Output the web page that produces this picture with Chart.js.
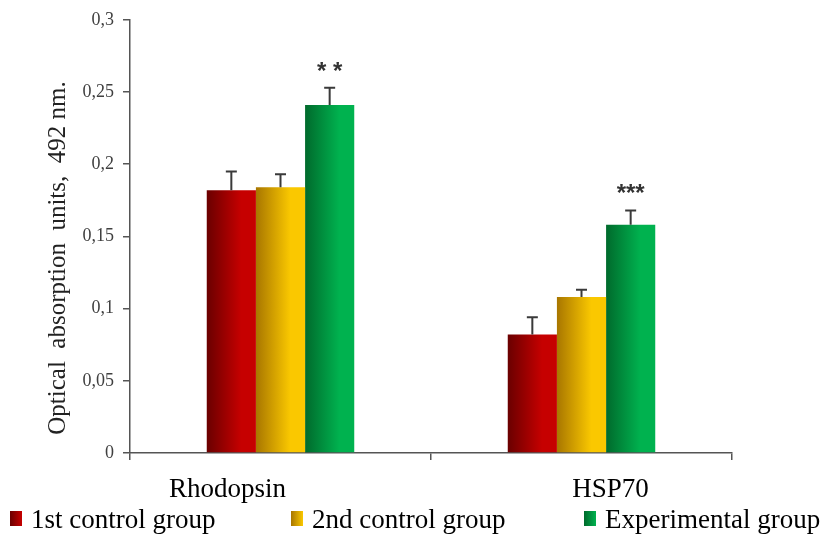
<!DOCTYPE html>
<html>
<head>
<meta charset="utf-8">
<script src="https://cdn.jsdelivr.net/npm/chart.js@4.4.1/dist/chart.umd.min.js"></script>
<style>
  html, body { margin: 0; padding: 0; background: #ffffff; }
  #wrap { position: relative; width: 824px; height: 534px; }
</style>
</head>
<body>
<div id="wrap"><canvas id="chart" width="824" height="534"></canvas></div>
<script>
// Categories and group names
const categories = ['Rhodopsin', 'HSP70'];
const groupNames = ['1st control group', '2nd control group', 'Experimental group'];

// Mean optical absorption per group
const firstControl  = [0.182, 0.082];
const secondControl = [0.184, 0.108];
const experimental  = [0.241, 0.158];

// Upper error (SEM) per group
const firstControlErr  = [0.013, 0.012];
const secondControlErr = [0.009, 0.005];
const experimentalErr  = [0.012, 0.010];

// Significance marks over the experimental group
const significance = ['* *', '***'];

// Y axis tick labels (decimal comma)
const yTickLabels = ['0', '0,05', '0,1', '0,15', '0,2', '0,25', '0,3'];
const yTitle = 'Optical  absorption  units,  492 nm.';

const SERIF = '"Liberation Serif", "Times New Roman", serif';
const AXIS = '#555555';

// Horizontal dark-to-bright shading for each bar
const barShading = {
  id: 'barShading',
  beforeDatasetDraw(chart, args) {
    const ctx = chart.ctx;
    const shades = chart.data.datasets[args.index].shades;
    args.meta.data.forEach(el => {
      const l = el.x - el.width / 2, r = el.x + el.width / 2;
      const g = ctx.createLinearGradient(l, 0, r, 0);
      g.addColorStop(0, shades[0]);
      g.addColorStop(0.7, shades[1]);
      g.addColorStop(1, shades[1]);
      el.options = Object.assign({}, el.options, { backgroundColor: g });
    });
  }
};

// Upward error bars plus significance marks
const errorBars = {
  id: 'errorBars',
  afterDatasetsDraw(chart, args, opts) {
    const { ctx, scales: { y } } = chart;
    ctx.save();
    chart.data.datasets.forEach((ds, di) => {
      const meta = chart.getDatasetMeta(di);
      meta.data.forEach((el, i) => {
        const top = y.getPixelForValue(ds.data[i] + ds.errors[i]);
        ctx.strokeStyle = opts.color;
        ctx.lineWidth = opts.width;
        ctx.beginPath();
        ctx.moveTo(el.x, el.y);
        ctx.lineTo(el.x, top);
        ctx.moveTo(el.x - opts.cap / 2, top);
        ctx.lineTo(el.x + opts.cap / 2, top);
        ctx.stroke();
        if (ds.marks && ds.marks[i]) {
          ctx.fillStyle = opts.markColor;
          ctx.font = opts.markFont;
          ctx.textAlign = 'center';
          ctx.textBaseline = 'alphabetic';
          ctx.fillText(ds.marks[i], el.x, top - opts.markGap);
        }
      });
    });
    ctx.restore();
  }
};

// Category names, y title and legend
const annotations = {
  id: 'annotations',
  afterDraw(chart, args, opts) {
    const { ctx, scales: { x } } = chart;
    ctx.save();
    // category names under the axis
    ctx.fillStyle = '#000000';
    ctx.font = '27px ' + SERIF;
    ctx.textAlign = 'center';
    ctx.textBaseline = 'alphabetic';
    chart.data.labels.forEach((lab, i) => {
      ctx.fillText(lab, x.getPixelForValue(i) + opts.labelShift[i], opts.labelBaseline);
    });
    // rotated y title
    ctx.save();
    ctx.translate(opts.titleX, opts.titleY);
    ctx.rotate(-Math.PI / 2);
    ctx.font = '25px ' + SERIF;
    ctx.fillStyle = '#222222';
    ctx.textAlign = 'center';
    ctx.textBaseline = 'middle';
    ctx.fillText(yTitle, 0, 0);
    ctx.restore();
    // legend row
    ctx.font = '27px ' + SERIF;
    ctx.textAlign = 'left';
    ctx.textBaseline = 'alphabetic';
    chart.data.datasets.forEach((ds, i) => {
      const bx = opts.legendX[i];
      const g = ctx.createLinearGradient(bx, 0, bx + 12, 0);
      g.addColorStop(0, ds.shades[0]);
      g.addColorStop(1, ds.shades[1]);
      ctx.fillStyle = g;
      ctx.fillRect(bx, opts.legendBoxTop, 12, 15);
      ctx.fillStyle = '#000000';
      ctx.fillText(ds.label, bx + 21, opts.legendBaseline);
    });
    ctx.restore();
  }
};

const shades = [
  ['#6a0000', '#c60000'],
  ['#a87600', '#fac800'],
  ['#006a2c', '#00b24f']
];

new Chart(document.getElementById('chart'), {
  type: 'bar',
  data: {
    labels: categories,
    datasets: [
      { label: groupNames[0], data: firstControl,  errors: firstControlErr,  shades: shades[0], backgroundColor: shades[0][1] },
      { label: groupNames[1], data: secondControl, errors: secondControlErr, shades: shades[1], backgroundColor: shades[1][1] },
      { label: groupNames[2], data: experimental,  errors: experimentalErr,  shades: shades[2], backgroundColor: shades[2][1], marks: significance }
    ]
  },
  options: {
    responsive: false,
    animation: false,
    devicePixelRatio: 1,
    layout: { padding: { left: 0, right: 92, top: 19, bottom: 0 } },
    datasets: { bar: { categoryPercentage: 0.49, barPercentage: 1, borderWidth: 0 } },
    plugins: {
      legend: { display: false },
      tooltip: { enabled: false },
      errorBars: { color: '#3a3a3a', width: 2, cap: 11, markColor: '#333333', markFont: 'bold 24px "Liberation Sans", Arial, sans-serif', markGap: 9 },
      annotations: {
        labelShift: [-53, 29],
        labelBaseline: 497,
        titleX: 58,
        titleY: 258,
        legendX: [10, 291, 584],
        legendBoxTop: 511,
        legendBaseline: 528
      }
    },
    scales: {
      x: {
        grid: { offset: true, drawOnChartArea: false, drawTicks: true, tickLength: 7, color: AXIS, lineWidth: 1.5 },
        border: { color: AXIS, width: 1.5 },
        ticks: { display: false },
        afterFit(scale) { scale.height = 81; }
      },
      y: {
        min: 0,
        max: 0.3,
        ticks: {
          stepSize: 0.05,
          padding: 9,
          color: '#404040',
          font: { family: SERIF, size: 18 },
          callback: (v, i) => yTickLabels[i]
        },
        grid: { drawOnChartArea: false, drawTicks: true, tickLength: 7, color: AXIS, lineWidth: 1.5 },
        border: { color: AXIS, width: 1.5 },
        afterFit(scale) { scale.width = 130; }
      }
    }
  },
  plugins: [barShading, errorBars, annotations]
});
</script>
</body>
</html>
